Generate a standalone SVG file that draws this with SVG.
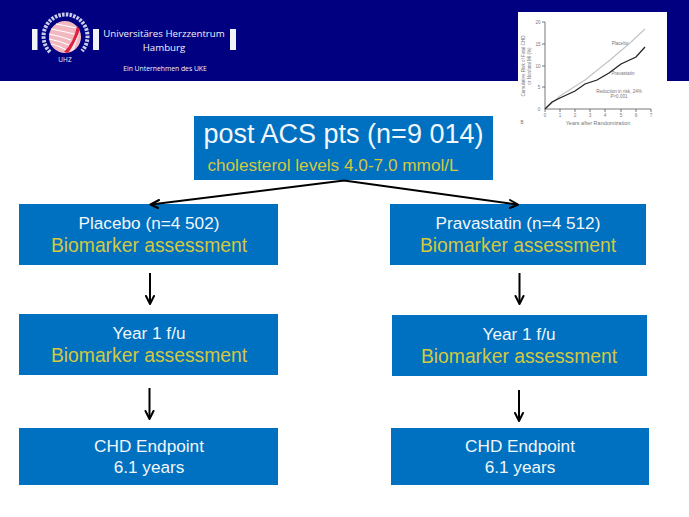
<svg xmlns="http://www.w3.org/2000/svg" width="689" height="517" viewBox="0 0 689 517">
<defs>
<style>
text{font-family:"Liberation Sans",Arial,sans-serif;text-anchor:middle}
.box{fill:#0070c0}
.w{fill:#f2f7fb;font-size:17.2px}
.y{fill:#d4c840;font-size:19.3px}
.c{fill:none;stroke:#000;stroke-width:2}
.h{fill:none;stroke:#000;stroke-width:2;stroke-linecap:round;stroke-linejoin:round}
.hw{fill:#f1f3fb;font-family:"Open Sans","Liberation Sans",sans-serif}
.ax{fill:none;stroke:#555;stroke-width:.8}
.t{fill:#777;font-size:4.600px}
</style>
</defs>
<rect width="689" height="517" fill="#fff"/>
<g id="header">
<rect width="689" height="81" fill="#000080"/>
<rect x="32" y="29" width="5.500" height="21" fill="#f1f3fb"/>
<rect x="93" y="29" width="6" height="21" fill="#f1f3fb"/>
<rect x="230" y="29" width="6" height="21" fill="#f1f3fb"/>
<circle cx="65" cy="37" r="16" fill="#f2b8c0"/>
<path d="M56 24Q66 26 77 28M51 29Q62 31 74 34M49 34Q60 36 71 40M49 39Q60 41 69 45M51 44Q60 46 66 50" fill="none" stroke="#fff" stroke-width="1.100"/>
<path d="M80 29Q76 42 68 53L64 52Q74 42 77 26Z" fill="#e02040"/>
<path d="M80 31L74 50L70 52Z" fill="#f4e6ea"/>
<path d="M50 52A22 22 0 1 1 82 51" fill="none" stroke="#c8cdea" stroke-width="4" stroke-dasharray="2.500 1.200"/>
<text x="65" y="62" class="hw" font-size="6.500">UHZ</text>
<text x="164" y="37" class="hw" font-size="9.700">Universitäres Herzzentrum</text>
<text x="164" y="51" class="hw" font-size="9.700">Hamburg</text>
<text x="165" y="71" class="hw" font-size="6.800">Ein Unternehmen des UKE</text>
</g>
<g id="chart">
<rect x="518" y="12" width="149" height="115" fill="#fff"/>
<path class="ax" d="M545 22V109H651M542 22H545M542 44H545M542 66H545M542 87H545M545 109V112M560 109V112M575 109V112M590 109V112M605 109V112M621 109V112M636 109V112M651 109V112"/>
<path d="M545 109L560 96L585 80L610 60L630 43L645 29" fill="none" stroke="#c4c4c4" stroke-width="1.200"/>
<path d="M545 109L552 102L560 98L575 91L585 84L597 80L609 73L621 64L636 57L645 47" fill="none" stroke="#222" stroke-width="1.300"/>
<text class="t" x="538" y="24">20</text><text class="t" x="538" y="46">15</text><text class="t" x="538" y="68">10</text><text class="t" x="539" y="89">5</text><text class="t" x="539" y="111">0</text>
<text class="t" x="545" y="117">0</text><text class="t" x="560" y="117">1</text><text class="t" x="575" y="117">2</text><text class="t" x="590" y="117">3</text><text class="t" x="605" y="117">4</text><text class="t" x="621" y="117">5</text><text class="t" x="636" y="117">6</text><text class="t" x="651" y="117">7</text>
<text class="t" x="620" y="45">Placebo</text>
<text class="t" x="623" y="75">Pravastatin</text>
<text class="t" x="619" y="93">Reduction in risk, 24%</text>
<text class="t" x="619" y="98">P&lt;0.001</text>
<text class="t" x="598" y="125" style="font-size:5.500px">Years after Randomization</text>
<text class="t" x="522" y="124">B</text>
<text class="t" transform="translate(525 66) rotate(-90)">Cumulative Risk of Fatal CHD</text>
<text class="t" transform="translate(531 66) rotate(-90)">or Nonfatal MI (%)</text>
</g>
<g id="top"><rect class="box" x="194" y="116" width="299" height="64"/>
<text x="343.500" y="143" fill="#f2f7fb" font-size="27px">post ACS pts (n=9 014)</text>
<text x="333" y="171" class="y" style="font-size:17.200px">cholesterol levels 4.0-7.0 mmol/L</text></g>
<g id="placebo"><rect class="box" x="19" y="204" width="259" height="61"/>
<text x="149" y="229" class="w">Placebo (n=4 502)</text><text x="149" y="252" class="y">Biomarker assessment</text></g>
<g id="pravastatin"><rect class="box" x="390" y="204" width="256" height="61"/>
<text x="518" y="229" class="w">Pravastatin (n=4 512)</text><text x="518" y="252" class="y">Biomarker assessment</text></g>
<g id="year-left"><rect class="box" x="19" y="314" width="259" height="61"/>
<text x="149" y="339" class="w">Year 1 f/u</text><text x="149" y="362" class="y">Biomarker assessment</text></g>
<g id="year-right"><rect class="box" x="392" y="315" width="255" height="61"/>
<text x="519" y="340" class="w">Year 1 f/u</text><text x="519" y="363" class="y">Biomarker assessment</text></g>
<g id="chd-left"><rect class="box" x="19" y="428" width="259" height="57"/>
<text x="149" y="452" class="w">CHD Endpoint</text><text x="149" y="473" class="w">6.1 years</text></g>
<g id="chd-right"><rect class="box" x="391" y="428" width="258" height="57"/>
<text x="520" y="452" class="w">CHD Endpoint</text><text x="520" y="473" class="w">6.1 years</text></g>
<g id="connectors">
<path class="c" d="M344 180.500L151 204.500M344 180.500L517 204.500"/>
<path class="h" d="M159 200L150.500 204.500L158 208M510 200L518 204.500L510 208"/>
<path class="c" d="M150 273V303M519.500 273V303M149.500 388V418M519 390V420"/>
<path class="h" d="M146 296L150 304L154 296M515.500 296L519.500 304L523.500 296M145.500 411L149.500 419L153.500 411M515 413L519 421L523 413"/>
</g>
</svg>
